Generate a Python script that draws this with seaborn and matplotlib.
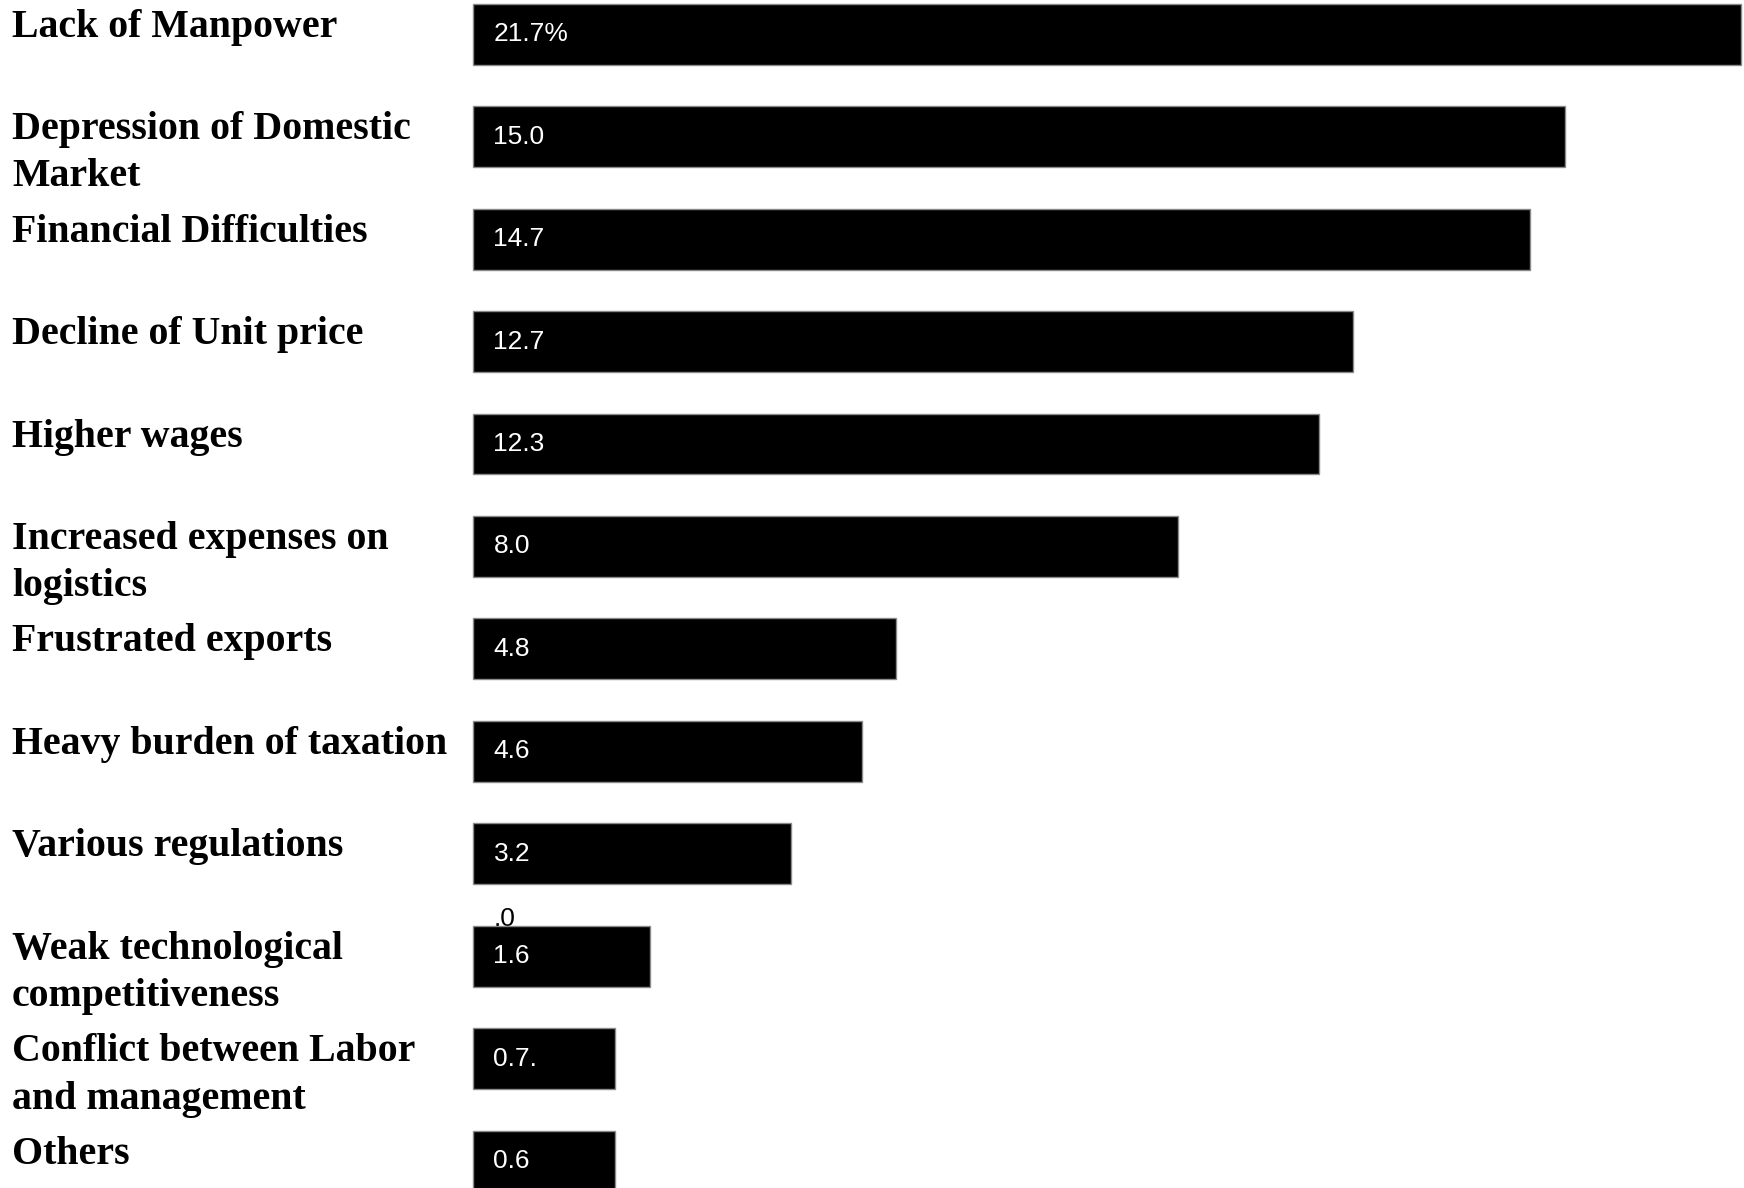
import matplotlib
matplotlib.use("Agg")
import matplotlib.pyplot as plt
import matplotlib.transforms as mtransforms
import seaborn as sns
import pandas as pd

# ---- data ----
categories = [
    "Lack of Manpower",
    "Depression of Domestic\nMarket",
    "Financial Difficulties",
    "Decline of Unit price",
    "Higher wages",
    "Increased expenses on\nlogistics",
    "Frustrated exports",
    "Heavy burden of taxation",
    "Various regulations",
    "Weak technological\ncompetitiveness",
    "Conflict between Labor\nand management",
    "Others",
]
value_labels = ["21.7%", "15.0", "14.7", "12.7", "12.3", "8.0", "4.8", "4.6",
                "3.2", "1.6", "0.7.", "0.6"]
# drawn bar lengths as they appear in the picture (not proportional to labels)
bar_lengths = [21.7, 18.69, 18.09, 15.07, 14.48, 12.06, 7.24, 6.65, 5.43,
               3.03, 2.43, 2.43]
stray_text = ".0"
stray_index = 9

# ---- figure ----
W, H, DPI = 1744, 1188, 100
sns.set_theme(style="white")
plt.rcParams['font.family'] = ['Liberation Sans', 'DejaVu Sans']

fig = plt.figure(figsize=(W / DPI, H / DPI), dpi=DPI)
ax = fig.add_axes([0, 0, 1, 1])

df = pd.DataFrame({"category": categories, "length": bar_lengths})
sns.barplot(data=df, x="length", y="category", orient="h", color="black",
            saturation=1, width=0.595, edgecolor="#8a8a8a", linewidth=1.0,
            ax=ax)

ax.set_xlim(-8.109, 21.759)
ax.set_ylim(11.259, -0.332)
ax.set_axis_off()

# category labels (left, bold serif), first line top-aligned above bar centre
label_tr = (mtransforms.blended_transform_factory(ax.transAxes, ax.transData)
            + mtransforms.ScaledTranslation(0, 25.5 / DPI, fig.dpi_scale_trans))
for i, lab in enumerate(categories):
    ax.text(12 / W, i, lab, transform=label_tr, ha="left", va="top",
            fontsize=28.7, fontweight="bold", family=["Liberation Serif"],
            color="black", linespacing=1.36)

# value labels inside the bars
val_tr = ax.transData + mtransforms.ScaledTranslation(20 / DPI, 0, fig.dpi_scale_trans)
for i, v in enumerate(value_labels):
    ax.text(0, i, v, transform=val_tr, ha="left", va="center", fontsize=19,
            color="white", family=["Liberation Sans"], zorder=5)

# stray label fragment above the 1.6 bar
stray_tr = ax.transData + mtransforms.ScaledTranslation(20 / DPI, 30 / DPI, fig.dpi_scale_trans)
ax.text(0, stray_index, stray_text, transform=stray_tr, ha="left", va="baseline",
        fontsize=19, color="black", family=["Liberation Sans"], zorder=0.5)

fig.savefig("out.png", dpi=DPI, facecolor="white")
